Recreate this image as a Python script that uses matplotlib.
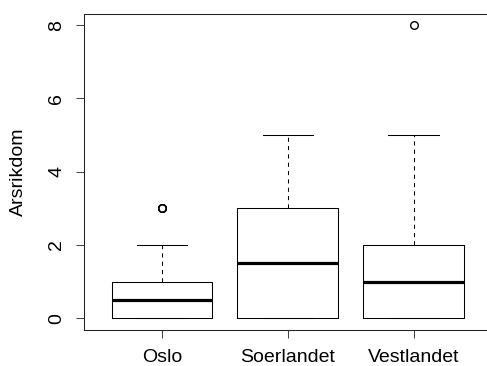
import matplotlib
matplotlib.use("Agg")
import matplotlib.pyplot as plt

categories = ["Oslo", "Soerlandet", "Vestlandet"]
whislo = [0, 0, 0]
q1 = [0, 0, 0]
med = [0.5, 1.5, 1.0]
q3 = [1, 3, 2]
whishi = [2, 5, 5]
outliers = [[3, 3, 3], [], [8]]
yticks = [0, 2, 4, 6, 8]
ylabel = "Arsrikdom"

plt.rcParams['font.family'] = ['Liberation Sans', 'DejaVu Sans']

DPI = 100
fig = plt.figure(figsize=(4.87, 3.66), dpi=DPI)
ax = fig.add_axes([84/487, 36/366, (491.5-84)/487, 316.5/366])

stats = []
for i, c in enumerate(categories):
    stats.append(dict(label=c, whislo=whislo[i], q1=q1[i], med=med[i],
                      q3=q3[i], whishi=whishi[i], fliers=outliers[i]))

lw = 0.75
ax.bxp(stats, positions=[1, 2, 3], widths=0.8, capwidths=0.4,
       boxprops=dict(color='black', linewidth=lw),
       medianprops=dict(color='black', linewidth=2.3, solid_capstyle='butt'),
       whiskerprops=dict(color='black', linewidth=lw, linestyle=(0, (4, 4))),
       capprops=dict(color='black', linewidth=lw),
       flierprops=dict(marker='o', markerfacecolor='none', markeredgecolor='black',
                       markersize=5.5, markeredgewidth=1.0, linestyle='none'))

ax.set_xlim(0.38, 3.62)
ax.set_ylim(-0.32, 8.32)
ax.set_yticks(yticks)
ax.set_yticklabels([str(v) for v in yticks], rotation=90, va='center')
ax.set_xticks([1, 2, 3])
ax.set_xticklabels(categories)

fs = 14
ax.tick_params(axis='both', labelsize=fs, length=6.1, width=lw, color='#444444')
ax.tick_params(axis='y', pad=7.5)
ax.tick_params(axis='x', pad=7.5)
for s in ax.spines.values():
    s.set_linewidth(lw)
    s.set_color('#222222')
ax.set_ylabel(ylabel, fontsize=fs)
ax.yaxis.set_label_coords(-(84-27)/407.5, 0.5)

fig.savefig("out.png", dpi=DPI)
